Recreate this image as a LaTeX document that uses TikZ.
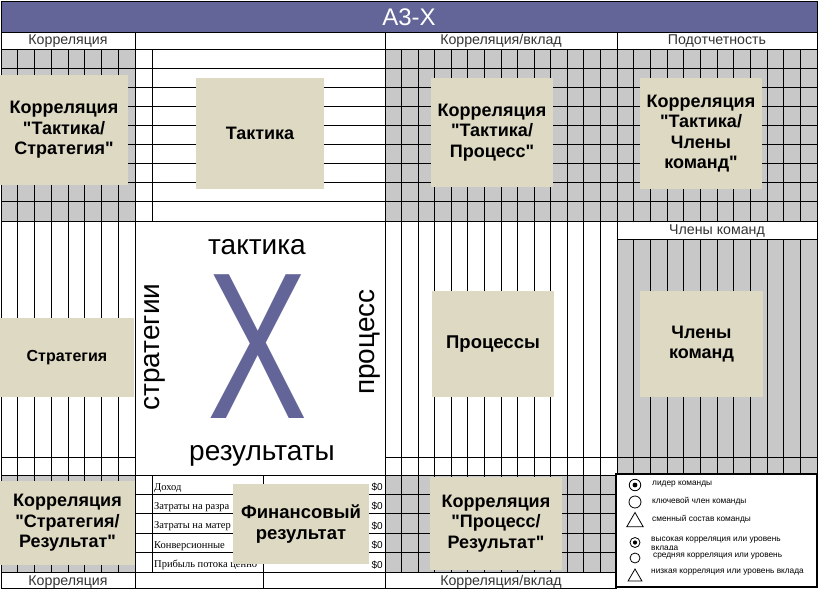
\documentclass[tikz,border=0pt]{standalone}
\usepackage{fontspec}
\setmainfont{Liberation Sans}[Ligatures=TeXOff]
\newfontfamily\tablefont{Liberation Serif}
\usetikzlibrary{positioning,shapes.geometric}
\definecolor{barblue}{RGB}{99,101,152}
\definecolor{cellgray}{RGB}{200,200,200}
\definecolor{boxtan}{RGB}{221,217,195}
\begin{document}
\begin{tikzpicture}[x=1pt,y=-1pt]
\tikzstyle{ruling}=[line width=0.9pt,black]
\tikzstyle{tan}=[fill=boxtan,inner sep=0pt,align=center,font=\bfseries\fontsize{18}{20.5}\selectfont]
\tikzstyle{hdr}=[font=\fontsize{14.2}{15}\selectfont,inner sep=0pt,anchor=base,text=black!80]
\tikzstyle{axis}=[font=\fontsize{28}{30}\selectfont,inner sep=0pt]
\tikzstyle{row}=[font=\tablefont\fontsize{10.5}{11}\selectfont,anchor=base west,inner sep=0pt]
\tikzstyle{usd}=[font=\fontsize{10}{11}\selectfont,anchor=base east,inner sep=0pt]
\tikzstyle{legtext}=[font=\fontsize{8.3}{9}\selectfont,anchor=west,inner sep=0pt]
\tikzstyle{legcirc}=[draw,circle,inner sep=0pt,line width=0.8pt]
\tikzstyle{legdot}=[fill,circle,inner sep=0pt,minimum size=4.8pt]
\tikzstyle{legtri}=[draw,regular polygon,regular polygon sides=3,inner sep=0pt,line width=0.8pt]
\useasboundingbox (0,0) rectangle (820,592);
\fill[white] (0,0) rectangle (820,592);
\fill[barblue] (1,1) rectangle (817,32);
\fill[cellgray] (1,49) rectangle (135,221);
\fill[cellgray] (385,49) rectangle (817,221);
\fill[cellgray] (617,239) rectangle (817,475);
\fill[cellgray] (1,475) rectangle (135,572);
\fill[cellgray] (385,475) rectangle (617,572);
\draw[ruling] (1,1) rectangle (817,32);
\foreach \k in {0,...,9}
  \draw[ruling] (1,{49+19.111*\k}) -- (817,{49+19.111*\k});
\foreach \k in {1,...,4}
  \draw[ruling] (1,{475+19.4*\k}) -- (617,{475+19.4*\k});
\draw[ruling] (1,49) -- (817,49);
\draw[ruling] (617,239) -- (817,239);
\draw[ruling] (1,457) -- (135,457);
\draw[ruling] (385,457) -- (817,457);
\draw[ruling] (1,475) -- (817,475);
\draw[ruling] (1,572) -- (617,572);
\draw[ruling] (1,588) -- (617,588);
\foreach \k in {0,...,8}
  \draw[ruling] ({1+16.75*\k},49) -- ({1+16.75*\k},572);
\foreach \k in {1,...,13}
  \draw[ruling] ({385+16.571*\k},49) -- ({385+16.571*\k},572);
\foreach \k in {1,...,11}
  \draw[ruling] ({617+16.667*\k},49) -- ({617+16.667*\k},221)
                ({617+16.667*\k},239) -- ({617+16.667*\k},475);
\draw[ruling] (1,32) -- (1,588);
\draw[ruling] (135,32) -- (135,588);
\draw[ruling] (385,32) -- (385,588);
\draw[ruling] (617,32) -- (617,588);
\draw[ruling] (817,32) -- (817,475);
\draw[ruling] (152,49) -- (152,221);
\draw[ruling] (152,475) -- (152,572);
\draw[ruling] (263,475) -- (263,588);
\node[text=white,font=\fontsize{24}{24}\selectfont] (title) at (409,17) {А3-Х};
\node[hdr] (hdrL) at (68,44.8) {Корреляция};
\node[hdr] (hdrCV) at (501,44.8) {Корреляция/вклад};
\node[hdr] (hdrAcc) at (717,44.8) {Подотчетность};
\node[hdr] (hdrMem) at (717,234.5) {Члены команд};
\node[hdr] (ftrL) at (68,585) {Корреляция};
\node[hdr] (ftrCV) at (501,585) {Корреляция/вклад};
\node[tan,minimum width=128pt,minimum height=110pt] (boxTS) at (64,130) {Корреляция\\"Тактика/\\Стратегия"};
\node[tan,minimum width=128pt,minimum height=111pt,font=\bfseries\fontsize{18}{20}\selectfont] (boxT) at (260,133.5) {Тактика};
\node[tan,minimum width=122pt,minimum height=109pt] (boxTP) at (492,132.5) {Корреляция\\"Тактика/\\Процесс"};
\node[tan,minimum width=122pt,minimum height=111pt] (boxTM) at (701,133.5) {Корреляция\\"Тактика/\\Члены\\команд"};
\node[tan,minimum width=134pt,minimum height=79pt,font=\bfseries\fontsize{16}{19}\selectfont] (boxS) at (67,357.5) {Стратегия};
\node[tan,minimum width=122pt,minimum height=106pt,font=\bfseries\fontsize{18.5}{20}\selectfont] (boxP) at (493,344) {Процессы};
\node[tan,minimum width=123pt,minimum height=106pt] (boxM) at (701.5,344) {Члены\\команд};
\node[tan,minimum width=135pt,minimum height=84pt] (boxSR) at (67.5,523) {Корреляция\\"Стратегия/\\Результат"};
\begin{scope}
\clip (152,475) rectangle (263,572);
\node[row] (row1) at (154,490) {Доход};
\node[row] (row2) at (154,509.4) {Затраты на разра};
\node[row] (row3) at (154,528.8) {Затраты на матер};
\node[row] (row4) at (154,548.2) {Конверсионные};
\node[row] (row5) at (154,567.6) {Прибыль потока ценно};
\end{scope}
\foreach \k in {1,...,5}
  \node[usd] (usd\k) at (383,{471+19.4*\k}) {\$0};
\node[tan,minimum width=136pt,minimum height=80pt,font=\bfseries\fontsize{18.5}{21.5}\selectfont] (boxF) at (301,524) {Финансовый\\результат};
\node[tan,minimum width=132pt,minimum height=93pt] (boxPR) at (496,523.5) {Корреляция\\"Процесс/\\Результат"};
\node[axis] (lblT) at (257,247) {тактика};
\node[axis] (lblR) at (262,456) {результаты};
\node[axis,rotate=90] (lblS) at (155,347) {стратегии};
\node[axis,rotate=90] (lblP) at (370,342) {процесс};
\node[text=barblue,font=\fontsize{209}{209}\selectfont,inner sep=0pt] (bigX) at (258,347) {\scalebox{0.72}[1]{X}};
\node[draw,line width=2pt,fill=white,minimum width=201pt,minimum height=113pt,inner sep=0pt] (legend) at (716.5,530.5) {};
\node[legcirc,minimum size=11.5pt] (lead) at (635,485) {};
\node[legdot] (leaddot) at (lead) {};
\node[legcirc,minimum size=12pt] (key) at (635,502) {};
\node[legtri,minimum size=19pt] (shift) at (635,522) {};
\node[legcirc,minimum size=10pt] (high) at (635,542.5) {};
\node[legdot,minimum size=4.2pt] (highdot) at (high) {};
\node[legcirc,minimum size=10pt] (mid) at (635,558) {};
\node[legtri,minimum size=16pt] (low) at (635,577) {};
\node[legtext] (leadt) at (652,484.5) {лидер команды};
\node[legtext] (keyt) at (652,501) {ключевой член команды};
\node[legtext] (shiftt) at (652,519) {сменный состав команды};
\node[legtext] (hight) at (651,540) {высокая корреляция или уровень};
\begin{scope}
\clip (640,544) rectangle (760,549);
\node[legtext] (hight2) at (651,549) {вклада};
\end{scope}
\node[legtext] (midt) at (653,556) {средняя корреляция или уровень};
\node[legtext] (lowt) at (651,572) {низкая корреляция или уровень вклада};
\end{tikzpicture}
\end{document}
